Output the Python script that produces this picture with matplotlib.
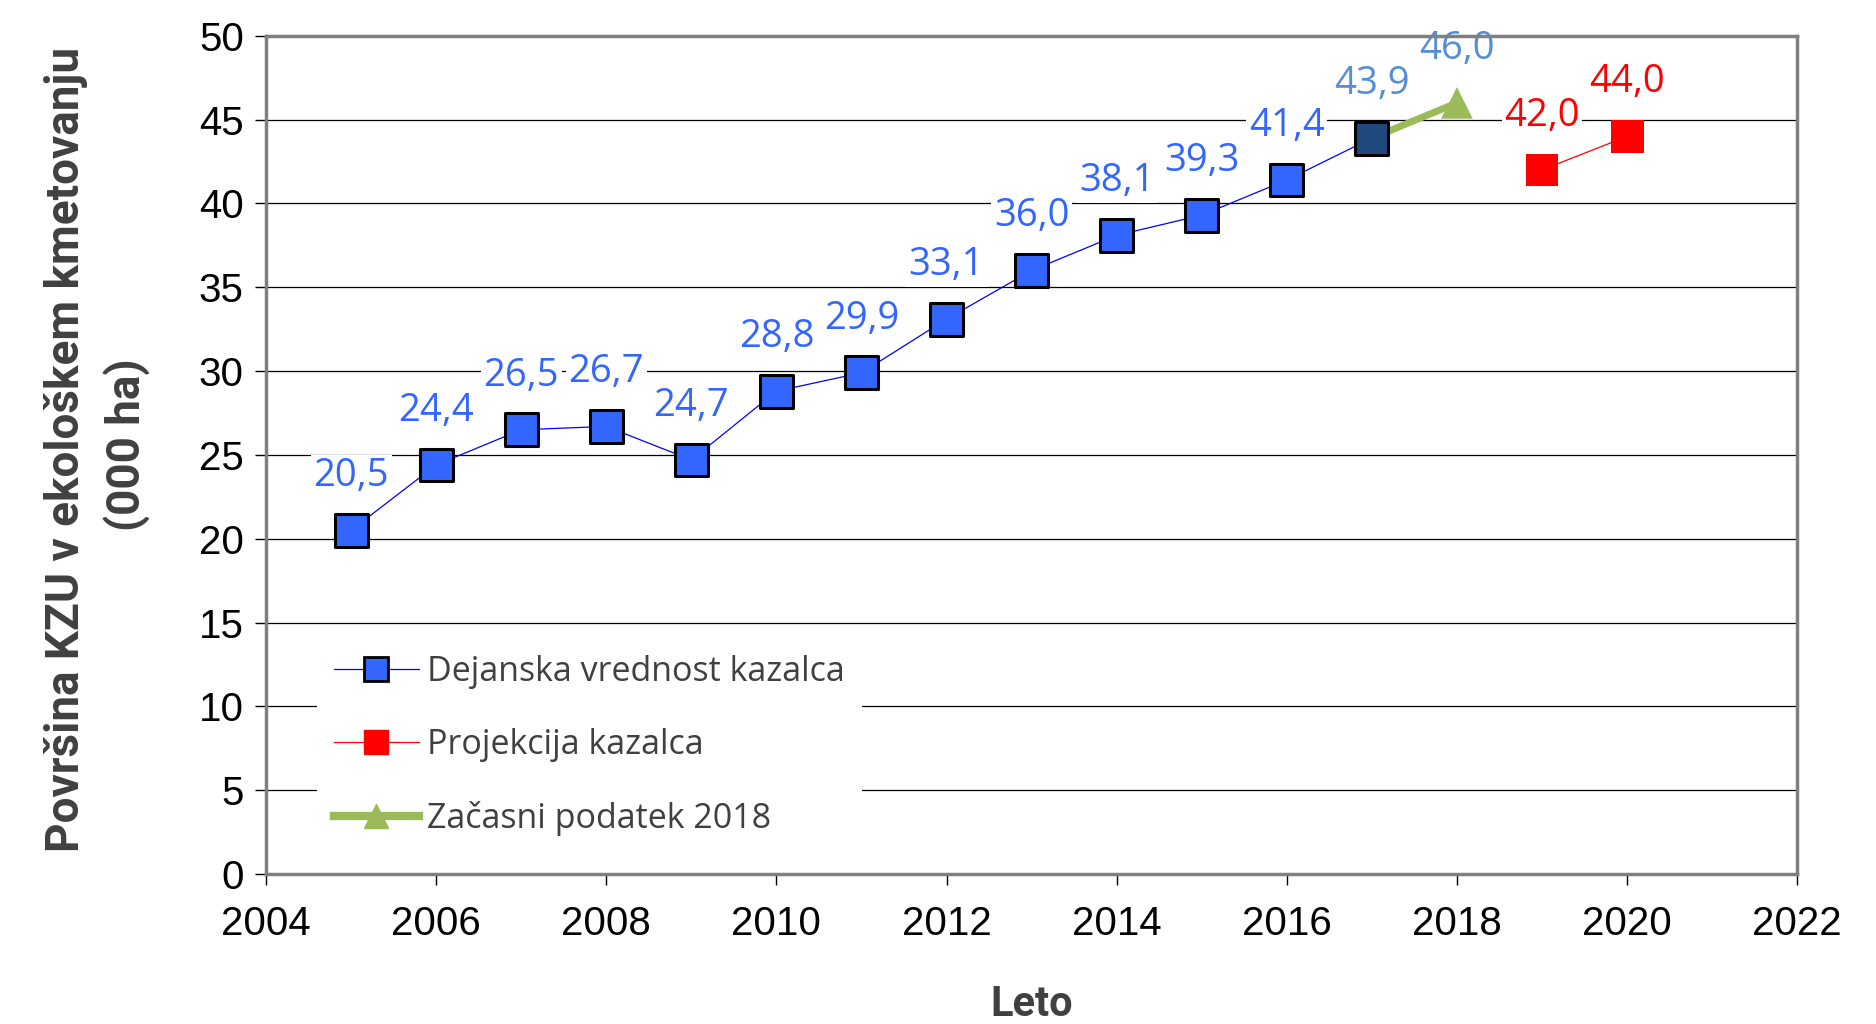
import matplotlib
matplotlib.use('Agg')
import matplotlib.pyplot as plt
import numpy as np

# Dejanska vrednost kazalca
years = [2005, 2006, 2007, 2008, 2009, 2010, 2011, 2012, 2013, 2014, 2015, 2016, 2017]
values = [20.5, 24.4, 26.5, 26.7, 24.7, 28.8, 29.9, 33.1, 36.0, 38.1, 39.3, 41.4, 43.9]
# Projekcija kazalca
proj_years = [2019, 2020]
proj_values = [42.0, 44.0]
# Začasni podatek 2018
temp_years = [2017, 2018]
temp_values = [43.9, 46.0]

lbl_font = 'Open Sans'
ax_font = ['Roboto', 'DejaVu Sans']

fig = plt.figure(figsize=(18.76, 10.24), dpi=100)
ax = fig.add_axes([0.1418, 0.1465, 0.8162, 0.8185])

# gridlines
for y in range(5, 50, 5):
    ax.axhline(y, color='black', lw=0.9, zorder=1)

# lines
ax.plot(years, values, color='#0000FF', lw=0.9, zorder=2)
ax.plot(proj_years, proj_values, color='#FF0000', lw=0.9, zorder=2)
ax.plot(temp_years, temp_values, color='#9BBB59', lw=5, solid_capstyle='butt', zorder=2)

# data labels
def fmt(v):
    return ('%.1f' % v).replace('.', ',')

def label(x, y, c):
    ax.annotate(fmt(y), (x, y), xytext=(0, 39), textcoords='offset points',
                ha='center', va='center', fontsize=27.5, family=lbl_font, color=c,
                bbox=dict(facecolor='white', edgecolor='none', pad=2), zorder=3)

for x, y in zip(years, values):
    label(x, y, '#558ED5' if x == 2017 else '#3366FF')
label(temp_years[1], temp_values[1], '#558ED5')
for x, y in zip(proj_years, proj_values):
    label(x, y, '#FF0000')

# markers
fills = ['#3366FF'] * (len(years) - 1) + ['#1F497D']
ax.scatter(years, values, marker='s', s=560, c=fills, edgecolors='black', linewidths=2.2, zorder=4)
ax.scatter(proj_years, proj_values, marker='s', s=560, c='#FF0000', edgecolors='none', zorder=4)
ax.scatter([temp_years[1]], [temp_values[1]], marker='^', s=520, c='#9BBB59', edgecolors='none', zorder=4)

# legend handles
h1, = ax.plot([], [], color='#0000FF', lw=0.9, marker='s', ms=17, mfc='#3366FF', mec='black', mew=2)
h2, = ax.plot([], [], color='#FF0000', lw=0.9, marker='s', ms=17, mfc='#FF0000', mec='#FF0000')
h3, = ax.plot([], [], color='#9BBB59', lw=6, marker='^', ms=17, mfc='#9BBB59', mec='#9BBB59')
leg = ax.legend([h1, h2, h3], ['Dejanska vrednost kazalca', 'Projekcija kazalca', 'Začasni podatek 2018'],
                loc='lower left', bbox_to_anchor=(0.022, 0.005), frameon=True, fancybox=False,
                framealpha=1, edgecolor='white', handlelength=2.5, handletextpad=0.25,
                labelspacing=1.15, prop={'family': lbl_font, 'size': 24.5}, borderpad=0.5)
leg.get_frame().set_linewidth(0)
leg.set_zorder(5)
for t in leg.get_texts():
    t.set_color('#404040')

ax.set_xlim(2004, 2022)
ax.set_ylim(0, 50)
ax.set_xticks(np.arange(2004, 2023, 2))
ax.set_yticks(np.arange(0, 51, 5))
ax.tick_params(axis='both', direction='out', length=8, width=1, color='black',
               labelsize=29, pad=8)
for lab in ax.get_xticklabels() + ax.get_yticklabels():
    lab.set_family('Liberation Sans')
ax.tick_params(axis='x', pad=14)

for s in ax.spines.values():
    s.set_color('#808080')
    s.set_linewidth(2.5)
    s.set_zorder(6)

ax.set_xlabel('Leto', fontsize=30, fontweight='bold', family=ax_font, color='#404040', labelpad=30)
fig.text(66 / 1876, 1 - 449 / 1024, 'Površina KZU v ekološkem kmetovanju', rotation=90,
         ha='center', va='center', fontsize=33, fontweight='bold', family=ax_font, color='#404040')
fig.text(127 / 1876, 1 - 445 / 1024, '(000 ha)', rotation=90,
         ha='center', va='center', fontsize=33, fontweight='bold', family=ax_font, color='#404040')

fig.savefig('out.png', dpi=100)
